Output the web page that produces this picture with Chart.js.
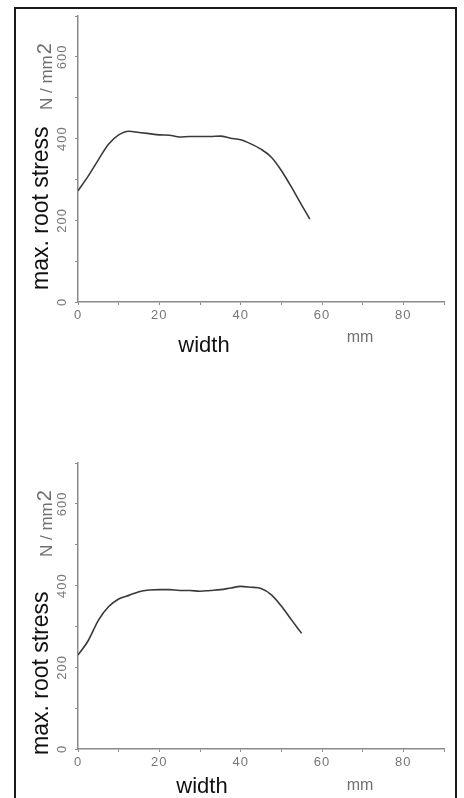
<!DOCTYPE html>
<html>
<head>
<meta charset="utf-8">
<script src="https://cdn.jsdelivr.net/npm/chart.js@4.4.1/dist/chart.umd.min.js"></script>
<style>
  html, body { margin: 0; padding: 0; background: #fff; }
  body { width: 464px; height: 798px; position: relative; overflow: hidden; }
  .frame { position: absolute; left: 14px; top: 7px; width: 439px; height: 820px; border: 2px solid #1a1a1a; border-bottom: none; }
  canvas { position: absolute; left: 0; }
</style>
</head>
<body>
<div class="frame"></div>
<canvas id="topChart" width="464" height="400" style="top:0"></canvas>
<canvas id="bottomChart" width="464" height="398" style="top:400px"></canvas>
<script>
// upper plot
const widthTop = [0, 2.5, 5, 7.5, 10, 12.5, 15, 17.5, 20, 22.5, 25, 27.5, 30, 32.5, 35, 37.5, 40, 42.5, 45, 47.5, 50, 52.5, 55, 57];
const stressTop = [272, 308, 348, 386, 409, 418, 415, 412, 409, 408, 404, 405, 405, 405, 406, 401, 397, 387, 374, 355, 322, 281, 237, 203];

// lower plot
const widthBottom = [0, 2.5, 5, 7.5, 10, 12.5, 15, 17.5, 20, 22.5, 25, 27.5, 30, 32.5, 35, 37.5, 40, 42.5, 45, 47.5, 50, 52.5, 55];
const stressBottom = [230, 265, 315, 348, 367, 376, 385, 389, 390, 390, 388, 388, 386, 388, 390, 394, 398, 396, 393, 378, 350, 316, 283];

const xTickLabels = ['0', '20', '40', '60', '80'];
const yTickLabels = ['0', '200', '400', '600'];
const yTitle = 'max. root stress';
const yUnit = 'N / mm';
const yUnitPower = '2';
const xTitle = 'width';
const xUnit = 'mm';

const FONT = '"Liberation Sans", Arial, sans-serif';

// wide-spaced tick digits, titles drawn normally
const spacing = {
  id: 'spacing',
  beforeLayout(chart) { chart.ctx.letterSpacing = '1px'; },
  beforeDraw(chart) { chart.ctx.letterSpacing = '1px'; }
};

// axis titles drawn after the chart
const axisText = {
  id: 'axisText',
  afterDraw(chart, args, o) {
    const ctx = chart.ctx;
    ctx.save();
    ctx.letterSpacing = '0px';
    ctx.textAlign = 'left';
    ctx.textBaseline = 'alphabetic';
    ctx.translate(o.yTitleX, o.yTitleStart);
    ctx.rotate(-Math.PI / 2);
    ctx.fillStyle = '#111';
    ctx.font = '23px ' + FONT;
    ctx.fillText(yTitle, 0, 0);
    ctx.restore();

    ctx.save();
    ctx.letterSpacing = '0px';
    ctx.textAlign = 'left';
    ctx.textBaseline = 'alphabetic';
    ctx.translate(o.unitX, o.unitStart);
    ctx.rotate(-Math.PI / 2);
    ctx.fillStyle = '#707070';
    ctx.font = '17px ' + FONT;
    ctx.fillText(yUnit, 0, 0);
    const w = ctx.measureText(yUnit).width;
    ctx.font = '20px ' + FONT;
    ctx.fillText(yUnitPower, w + 1, -1);
    ctx.restore();

    ctx.save();
    ctx.letterSpacing = '0px';
    ctx.textAlign = 'center';
    ctx.textBaseline = 'alphabetic';
    ctx.fillStyle = '#111';
    ctx.font = '22px ' + FONT;
    ctx.fillText(xTitle, o.xTitleX, o.xTitleY);
    ctx.fillStyle = '#707070';
    ctx.font = '16px ' + FONT;
    ctx.fillText(xUnit, o.xUnitX, o.xUnitY);
    ctx.restore();
  }
};

function makeChart(id, xs, ys, pos) {
  return new Chart(document.getElementById(id), {
    type: 'line',
    data: {
      datasets: [{
        data: xs.map((x, i) => ({ x: x, y: ys[i] })),
        borderColor: '#3a3a3a',
        borderWidth: 1.6,
        pointRadius: 0,
        cubicInterpolationMode: 'monotone',
        fill: false
      }]
    },
    options: {
      responsive: false,
      animation: false,
      devicePixelRatio: 1,
      layout: { padding: { top: pos.padTop, right: 20, left: 0, bottom: 0 } },
      plugins: {
        legend: { display: false },
        tooltip: { enabled: false },
        axisText: pos
      },
      scales: {
        x: {
          type: 'linear',
          min: 0,
          max: 90,
          afterFit: s => { s.height = pos.xHeight; },
          grid: { drawOnChartArea: false, tickLength: 3, color: '#8a8a8a', lineWidth: 1 },
          border: { color: '#8a8a8a', width: 1.5 },
          ticks: {
            stepSize: 10,
            autoSkip: false,
            maxRotation: 0,
            padding: 3,
            color: '#777',
            font: { family: FONT, size: 13 },
            callback: v => xTickLabels.includes(String(v)) ? String(v) : ''
          }
        },
        y: {
          min: 0,
          max: 700,
          afterFit: s => { s.width = 78; },
          grid: { drawOnChartArea: false, tickLength: 3, color: '#8a8a8a', lineWidth: 1 },
          border: { color: '#8a8a8a', width: 1.5 },
          ticks: {
            stepSize: 100,
            autoSkip: false,
            minRotation: 90,
            maxRotation: 90,
            crossAlign: 'center',
            padding: 0,
            color: '#777',
            font: { family: FONT, size: 13 },
            callback: v => yTickLabels.includes(String(v)) ? String(v) : ''
          }
        }
      }
    },
    plugins: [spacing, axisText]
  });
}

makeChart('topChart', widthTop, stressTop, {
  padTop: 16, xHeight: 98,
  yTitleX: 48, yTitleStart: 290,
  unitX: 52, unitStart: 110,
  xTitleX: 204, xTitleY: 352,
  xUnitX: 360, xUnitY: 342
});

makeChart('bottomChart', widthBottom, stressBottom, {
  padTop: 63, xHeight: 49,
  yTitleX: 48, yTitleStart: 355,
  unitX: 52, unitStart: 157,
  xTitleX: 202, xTitleY: 393,
  xUnitX: 360, xUnitY: 390
});
</script>
</body>
</html>
